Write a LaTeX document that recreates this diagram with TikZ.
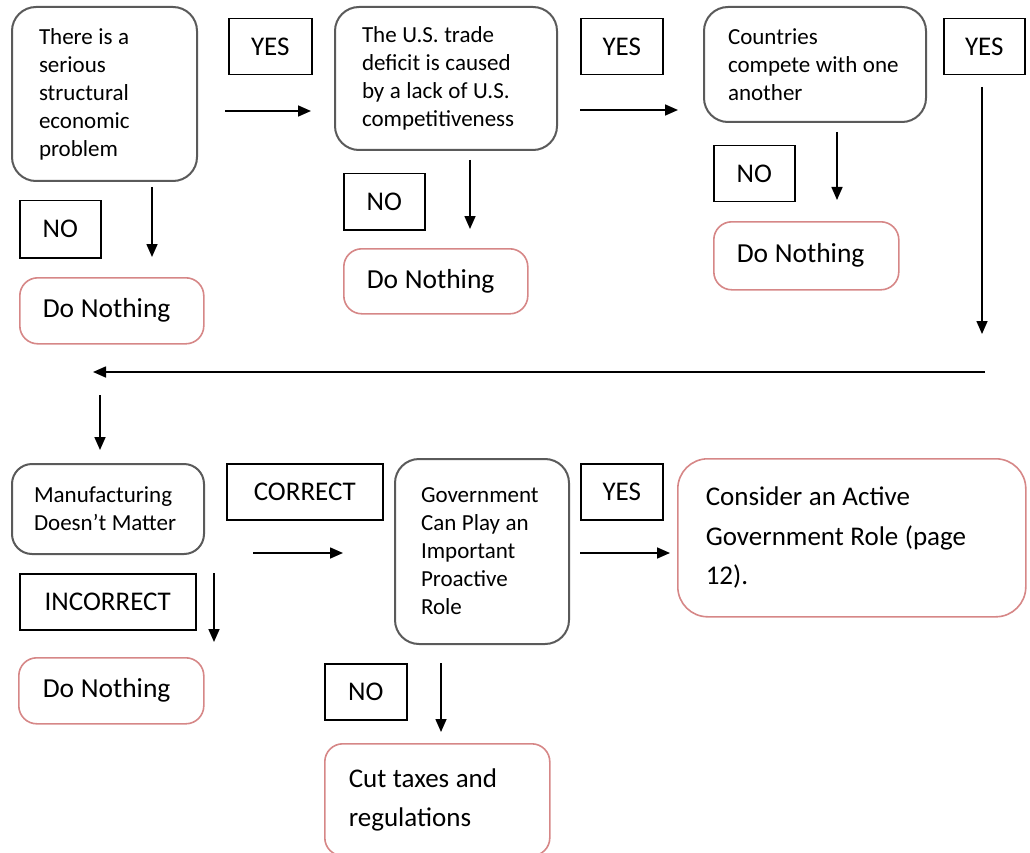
\documentclass[tikz,border=0pt]{standalone}
\usepackage{fontspec}
\setmainfont{Carlito}
\usepackage{tikz}
\usetikzlibrary{arrows.meta, positioning}
\definecolor{decgray}{RGB}{90,90,90}
\definecolor{actred}{RGB}{214,135,135}
\newcommand{\decfont}{\fontsize{23}{28}\selectfont}
\newcommand{\actfont}{\fontsize{27.5}{33}\selectfont}
\newcommand{\bigactfont}{\fontsize{27}{39.5}\selectfont}
\newcommand{\ansfont}{\fontsize{27}{33}\selectfont}
\tikzstyle{arrow}    = [line width=1.6pt, -{Triangle[length=13pt, width=11pt]}]
\tikzstyle{decision} = [draw=decgray, line width=2pt, rounded corners=24pt, anchor=north west, align=left, inner ysep=0pt, font=\decfont, execute at begin node={\spaceskip=0.24em\relax}]
\tikzstyle{action}   = [draw=actred, line width=1.6pt, rounded corners=18pt, anchor=north west, align=left, inner ysep=0pt, font=\actfont, execute at begin node={\spaceskip=0.24em\relax}]
\tikzstyle{answer}   = [draw, line width=1.5pt, anchor=north west, inner sep=0pt, font=\ansfont]

\begin{document}
\begin{tikzpicture}[x=1pt, y=-1pt]
\useasboundingbox (0,0) rectangle (1030,853);

% questions
\node[decision, inner xsep=27pt, text width=131pt, minimum height=174pt] (Q1) at (11,6) {There is a\\serious\\structural\\economic\\problem};
\node[decision, inner xsep=27pt, text width=168pt, minimum height=143pt] (Q2) at (334,6) {The U.S. trade\\deficit is caused\\by a lack of U.S.\\competitiveness};
\node[decision, inner xsep=24pt, text width=174pt, minimum height=115pt] (Q3) at (703,6) {Countries\\compete with one\\another};
\node[decision, inner xsep=22pt, text width=148pt, minimum height=90pt, rounded corners=20pt] (Q4) at (11,463) {Manufacturing\\Doesn’t Matter};
\node[decision, inner xsep=26pt, text width=122pt, minimum height=185pt] (Q5) at (394,458) {Government\\Can Play an\\Important\\Proactive\\Role};

% outcomes
\node[action, inner xsep=23pt, text width=138pt, minimum height=66pt] (A1) at (19,277) {Do Nothing};
\node[action, inner xsep=23pt, text width=138pt, minimum height=65pt] (A2) at (343,248) {Do Nothing};
\node[action, inner xsep=23pt, text width=139pt, minimum height=68pt] (A3) at (713,221) {Do Nothing};
\node[action, inner xsep=24pt, text width=137pt, minimum height=66pt] (A4) at (18,657) {Do Nothing};
\node[action, inner xsep=24pt, text width=177pt, minimum height=112pt, font=\bigactfont] (A5) at (324,743) {Cut taxes and\\regulations};
\node[action, inner xsep=28pt, text width=292pt, minimum height=158pt, rounded corners=30pt, font=\bigactfont] (A6) at (677,458) {Consider an Active\\Government Role (page\\12).};

% answers
\node[answer, minimum width=83pt, minimum height=56pt] (Y1) at (228,18) {YES};
\node[answer, minimum width=82pt, minimum height=56pt] (Y2) at (580,18) {YES};
\node[answer, minimum width=81pt, minimum height=56pt] (Y3) at (943,18) {YES};
\node[answer, minimum width=81pt, minimum height=57pt] (N1) at (19,200) {NO};
\node[answer, minimum width=81pt, minimum height=56pt] (N2) at (343,173) {NO};
\node[answer, minimum width=81pt, minimum height=56pt] (N3) at (713,145) {NO};
\node[answer, minimum width=156pt, minimum height=56pt] (C1) at (226,463) {CORRECT};
\node[answer, minimum width=176pt, minimum height=56pt] (I1) at (19,573) {INCORRECT};
\node[answer, minimum width=82pt, minimum height=56pt] (Y4) at (580,463) {YES};
\node[answer, minimum width=82pt, minimum height=56pt] (N4) at (324,663) {NO};

% arrow ends
\coordinate (r1s) at (225,111);  \coordinate (r1e) at (311,111);
\coordinate (r2s) at (580,110);  \coordinate (r2e) at (678,110);
\coordinate (r3s) at (253,553);  \coordinate (r3e) at (343,553);
\coordinate (r4s) at (580,553);  \coordinate (r4e) at (670,553);
\coordinate (d1s) at (152,187);  \coordinate (d1e) at (152,257);
\coordinate (d2s) at (470,160);  \coordinate (d2e) at (470,229);
\coordinate (d3s) at (837,132);  \coordinate (d3e) at (837,200);
\coordinate (d4s) at (982,87);   \coordinate (d4e) at (982,334);
\coordinate (d5s) at (100,395);  \coordinate (d5e) at (100,450);
\coordinate (d6s) at (214,573);  \coordinate (d6e) at (214,642);
\coordinate (d7s) at (441,663);  \coordinate (d7e) at (441,732);
\coordinate (backs) at (985,372); \coordinate (backe) at (93,372);

\draw[arrow] (r1s) -- (r1e);
\draw[arrow] (r2s) -- (r2e);
\draw[arrow] (r3s) -- (r3e);
\draw[arrow] (r4s) -- (r4e);
\draw[arrow] (d1s) -- (d1e);
\draw[arrow] (d2s) -- (d2e);
\draw[arrow] (d3s) -- (d3e);
\draw[arrow] (d4s) -- (d4e);
\draw[arrow] (backs) -- (backe);
\draw[arrow] (d5s) -- (d5e);
\draw[arrow] (d6s) -- (d6e);
\draw[arrow] (d7s) -- (d7e);

\end{tikzpicture}
\end{document}
